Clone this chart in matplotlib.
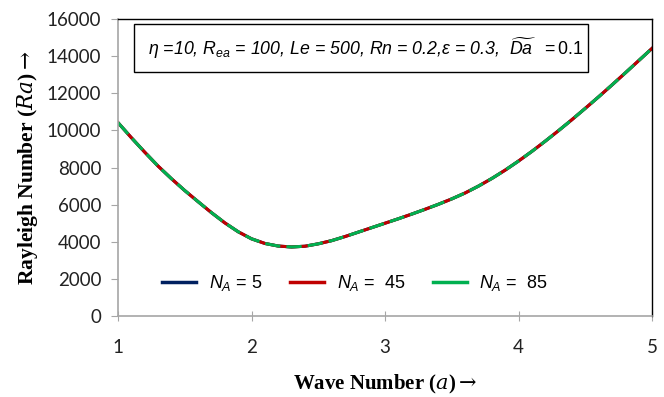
import matplotlib
matplotlib.use("Agg")
import matplotlib.pyplot as plt
from matplotlib.lines import Line2D
from matplotlib.patches import Rectangle

plt.rcParams['mathtext.fontset'] = 'custom'
plt.rcParams['mathtext.rm'] = 'Liberation Sans'
plt.rcParams['mathtext.it'] = 'Liberation Sans:italic'
plt.rcParams['mathtext.bf'] = 'Liberation Sans:bold'

# wave number a
wave = [1.0, 1.1, 1.2, 1.3, 1.4, 1.5, 1.6, 1.7, 1.8, 1.9,
        2.0, 2.1, 2.2, 2.3, 2.4, 2.5, 2.6, 2.7, 2.8, 2.9,
        3.0, 3.1, 3.2, 3.3, 3.4, 3.5, 3.6, 3.7, 3.8, 3.9,
        4.0, 4.1, 4.2, 4.3, 4.4, 4.5, 4.6, 4.7, 4.8, 4.9, 5.0]
# Rayleigh number, same for all three N_A (curves overlap)
ra_5 = [10420, 9610, 8830, 8080, 7400, 6760, 6160, 5570, 5020, 4540,
        4160, 3910, 3770, 3720, 3760, 3890, 4060, 4280, 4520, 4760,
        5000, 5240, 5490, 5750, 6020, 6310, 6630, 7000, 7410, 7860,
        8350, 8870, 9420, 9990, 10580, 11190, 11810, 12450, 13100, 13760, 14420]
ra_45 = list(ra_5)
ra_85 = list(ra_5)

labels = [r"$N_A$ = 5", r"$N_A$ =  45", r"$N_A$ =  85"]
colors = ["#002060", "#C00000", "#00B050"]

fig = plt.figure(figsize=(6.64, 3.97), dpi=100)
ax = fig.add_axes([0.1777, 0.204, 0.8043, 0.748])

ax.plot(wave, ra_5, color=colors[0], lw=2.2)
ax.plot(wave, ra_45, color=colors[1], lw=2.2)
ax.plot(wave, ra_85, color=colors[2], lw=2.2, dashes=(5, 2))

ax.set_xlim(1, 5)
ax.set_ylim(0, 16000)
ax.set_xticks([1, 2, 3, 4, 5])
ax.set_yticks(range(0, 16001, 2000))

for s in ['left', 'bottom']:
    ax.spines[s].set_color('#A6A6A6')
    ax.spines[s].set_linewidth(1.2)
for s in ['top', 'right']:
    ax.spines[s].set_color('black')
    ax.spines[s].set_linewidth(1.0)

ax.tick_params(axis='x', direction='inout', length=7, color='#A6A6A6', pad=13)
ax.tick_params(axis='y', direction='out', length=5, color='#A6A6A6', pad=7)
for t in ax.get_xticklabels() + ax.get_yticklabels():
    t.set_fontfamily('Lato')
    t.set_fontsize(13.5)
    t.set_color('#222222')

ax.set_xlabel(r"Wave Number ($a$)$\rightarrow$", family='Liberation Serif',
              fontweight='bold', fontsize=15, labelpad=12)
ax.set_ylabel(r"Rayleigh Number ($Ra$)$\rightarrow$", family='Liberation Serif',
              fontweight='bold', fontsize=15.5, labelpad=5)
ax.xaxis.label.set_math_fontfamily('dejavuserif')
ax.yaxis.label.set_math_fontfamily('dejavuserif')

# parameter box
ax.add_patch(Rectangle((0.030, 0.8215), 0.850, 0.1615, transform=ax.transAxes,
                       fc='white', ec='black', lw=1.0, zorder=3))
ax.text(0.056, 0.902,
        r"$\eta$ =10, $R_{ea}$ = 100, Le = 500, Rn = 0.2,$\varepsilon$ = 0.3,  $\widetilde{Da}$  $\mathrm{= 0.1}$",
        transform=ax.transAxes, fontsize=12.8, style='italic', family='Liberation Sans',
        va='center', ha='left', zorder=4)

handles = [Line2D([], [], color=c, lw=2.5) for c in colors]
ax.legend(handles, labels, loc='center', bbox_to_anchor=(0.444, 0.111), ncol=3,
          frameon=False, prop={'family': 'Liberation Sans', 'size': 13},
          handlelength=1.9, columnspacing=1.5, handletextpad=0.7)

fig.savefig("out.png", dpi=100)
